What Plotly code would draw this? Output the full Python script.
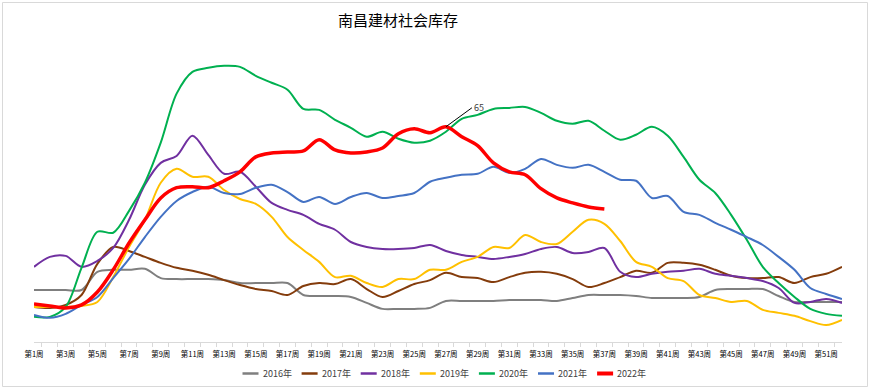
import plotly.graph_objects as go

weeks = [f"第{i}周" for i in range(1, 53)]

y2016 = [15.7, 15.7, 15.7, 15.7, 21.2, 21.8, 21.8, 22.1, 19.3, 19.0,
         19.0, 19.0, 18.7, 17.8, 17.8, 17.8, 17.8, 14.2, 13.9, 13.9,
         13.6, 11.8, 10.0, 10.0, 10.0, 10.3, 12.4, 12.4, 12.4, 12.4,
         12.7, 12.7, 12.7, 12.4, 13.3, 14.2, 14.2, 14.2, 13.9, 13.3,
         13.3, 13.3, 13.6, 15.7, 16.0, 16.0, 16.0, 13.9, 12.1, 12.1,
         12.1, 12.1]
y2017 = [10.6, 10.3, 11.2, 14.2, 23.6, 28.7, 27.5, 25.7, 23.9, 22.4,
         21.5, 20.3, 18.7, 17.2, 16.0, 15.4, 14.2, 16.9, 17.8, 17.5,
         19.0, 16.0, 13.6, 15.4, 17.5, 18.7, 20.9, 19.6, 19.3, 18.1,
         19.6, 20.9, 21.2, 20.6, 19.0, 16.6, 17.8, 19.6, 21.5, 20.9,
         23.9, 23.9, 23.3, 21.8, 20.0, 19.3, 19.3, 19.6, 17.8, 19.6,
         20.6, 22.7]
y2018 = [22.7, 25.7, 26.0, 22.7, 24.5, 28.4, 36.9, 47.5, 54.1, 56.2,
         62.3, 56.5, 50.8, 51.4, 46.9, 42.0, 39.9, 38.4, 35.7, 33.9,
         30.2, 28.7, 28.1, 28.1, 28.4, 29.3, 27.5, 26.3, 25.7, 25.1,
         25.7, 26.6, 28.1, 28.7, 26.9, 27.2, 28.4, 21.2, 19.6, 20.6,
         21.2, 21.5, 22.1, 20.6, 20.0, 19.3, 18.4, 16.3, 11.8, 12.1,
         13.0, 11.8]
y2019 = [10.6, 10.6, 10.6, 10.9, 12.1, 19.6, 28.7, 36.9, 48.1, 52.3,
         49.9, 49.9, 45.9, 43.2, 41.7, 37.8, 31.7, 27.8, 24.2, 19.6,
         20.0, 17.8, 16.6, 19.0, 19.0, 21.8, 21.8, 24.2, 25.7, 28.7,
         28.4, 32.3, 30.2, 29.6, 33.3, 36.9, 35.7, 30.5, 24.2, 22.7,
         19.3, 18.4, 14.2, 13.3, 12.1, 12.4, 9.7, 8.8, 7.9, 6.3,
         5.1, 6.7]
y2020 = [7.6, 7.6, 10.6, 22.4, 33.3, 33.0, 39.6, 48.1, 60.2, 75.0,
         81.6, 82.8, 83.4, 83.1, 80.4, 78.3, 76.2, 70.4, 70.1, 67.1,
         64.7, 62.0, 63.5, 61.4, 60.2, 60.8, 63.5, 67.4, 68.6, 70.4,
         70.7, 71.0, 69.2, 66.8, 65.9, 66.8, 63.8, 61.1, 62.6, 65.0,
         62.3, 55.9, 49.0, 45.0, 38.4, 30.8, 22.7, 17.8, 13.6, 10.0,
         8.5, 7.9]
y2021 = [8.2, 7.3, 8.5, 11.2, 13.6, 19.3, 25.1, 31.7, 37.8, 42.6,
         45.3, 46.9, 45.0, 44.7, 46.6, 47.5, 45.3, 42.3, 43.8, 41.7,
         43.8, 45.0, 43.5, 44.1, 45.0, 48.4, 49.6, 50.5, 50.8, 52.9,
         51.1, 52.3, 55.3, 53.5, 52.6, 53.5, 51.4, 49.0, 48.7, 43.5,
         44.1, 39.3, 38.4, 36.0, 33.9, 31.7, 29.3, 25.7, 21.8, 16.3,
         14.5, 13.0]
y2022 = [11.5, 10.9, 10.3, 11.2, 15.1, 21.8, 29.9, 36.9, 43.5, 46.6,
         46.9, 46.6, 48.7, 51.4, 55.9, 57.1, 57.4, 57.7, 61.1, 58.0,
         57.1, 57.4, 58.6, 62.9, 64.4, 63.2, 65.0, 62.0, 59.3, 54.1,
         51.4, 50.5, 46.3, 43.5, 42.0, 40.8, 40.2]

series_names = ["2016年", "2017年", "2018年", "2019年", "2020年", "2021年", "2022年"]
series_values = [y2016, y2017, y2018, y2019, y2020, y2021, y2022]
colors = ["#7f7f7f", "#843c0c", "#7030a0", "#ffc000", "#00b050", "#4472c4", "#ff0000"]
widths = [2, 2, 2, 2, 2, 2, 3.5]

label_week = "第27周"
label_value = 65

font_cjk = "Noto Sans CJK SC, Microsoft YaHei, sans-serif"

# layout geometry (pixels)
W, H = 873, 390
ML, MR, MT, MB = 34, 31, 44, 48
PW, PH = W - ML - MR, H - MT - MB


def px_x(px):
    return (px - ML) / PW


def px_y(py):
    return (H - MB - py) / PH


fig = go.Figure()
for name, vals, c, w in zip(series_names, series_values, colors, widths):
    fig.add_trace(go.Scatter(
        x=weeks[:len(vals)], y=vals, name=name, mode="lines",
        line=dict(color=c, width=w, shape="spline", smoothing=0.9),
        hoverinfo="skip", showlegend=False,
    ))

# data label
fig.add_annotation(
    x=label_week, y=label_value, text=str(label_value),
    showarrow=True, arrowhead=0, arrowwidth=1, arrowcolor="#000000",
    ax=26, ay=-19, font=dict(size=9, color="#404040", family=font_cjk),
    xanchor="left", yanchor="middle",
)

# title
fig.add_annotation(
    x=px_x(398), y=px_y(20), xref="paper", yref="paper", showarrow=False,
    text="南昌建材社会库存", font=dict(size=15, color="#000000", family=font_cjk),
    xanchor="center", yanchor="middle",
)

# chart border
fig.add_shape(
    type="rect", xref="paper", yref="paper",
    x0=px_x(2.5), x1=px_x(867.5), y0=px_y(386.5), y1=px_y(2.5),
    line=dict(color="#d9d9d9", width=1), fillcolor="rgba(0,0,0,0)", layer="below",
)

# legend (drawn manually to match short line samples)
leg_x0, leg_step, leg_len, leg_y = 242.5, 59.1, 16, 373.5
for i, (name, c, w) in enumerate(zip(series_names, colors, widths)):
    lx = leg_x0 + i * leg_step
    fig.add_shape(
        type="line", xref="paper", yref="paper",
        x0=px_x(lx), x1=px_x(lx + leg_len), y0=px_y(leg_y), y1=px_y(leg_y),
        line=dict(color=c, width=w + 0.5),
    )
    fig.add_annotation(
        x=px_x(lx + leg_len + 2), y=px_y(leg_y), xref="paper", yref="paper",
        showarrow=False, text=name, xanchor="left", yanchor="middle",
        font=dict(size=9, color="#404040", family=font_cjk),
    )

ticktext = [w if i % 2 == 0 else "" for i, w in enumerate(weeks)]

fig.update_layout(
    width=W, height=H,
    margin=dict(l=ML, r=MR, t=MT, b=MB),
    paper_bgcolor="white", plot_bgcolor="white",
    font=dict(family=font_cjk, color="#404040"),
    showlegend=False,
    xaxis=dict(
        type="category", categoryorder="array", categoryarray=weeks,
        tickmode="array", tickvals=weeks, ticktext=ticktext,
        tickson="boundaries", ticks="outside", ticklen=4, tickcolor="#d9d9d9",
        showline=True, linecolor="#d9d9d9", linewidth=1,
        showgrid=False, zeroline=False,
        tickfont=dict(size=7.5, color="#000000", family=font_cjk),
        ticklabelstandoff=5,
        tickangle=0, fixedrange=True,
    ),
    yaxis=dict(range=[0, 90], visible=False, fixedrange=True),
)

fig.write_html(
    "out.html",
    config={"displayModeBar": False, "staticPlot": True},
    post_script="document.body.style.margin='0';",
)
